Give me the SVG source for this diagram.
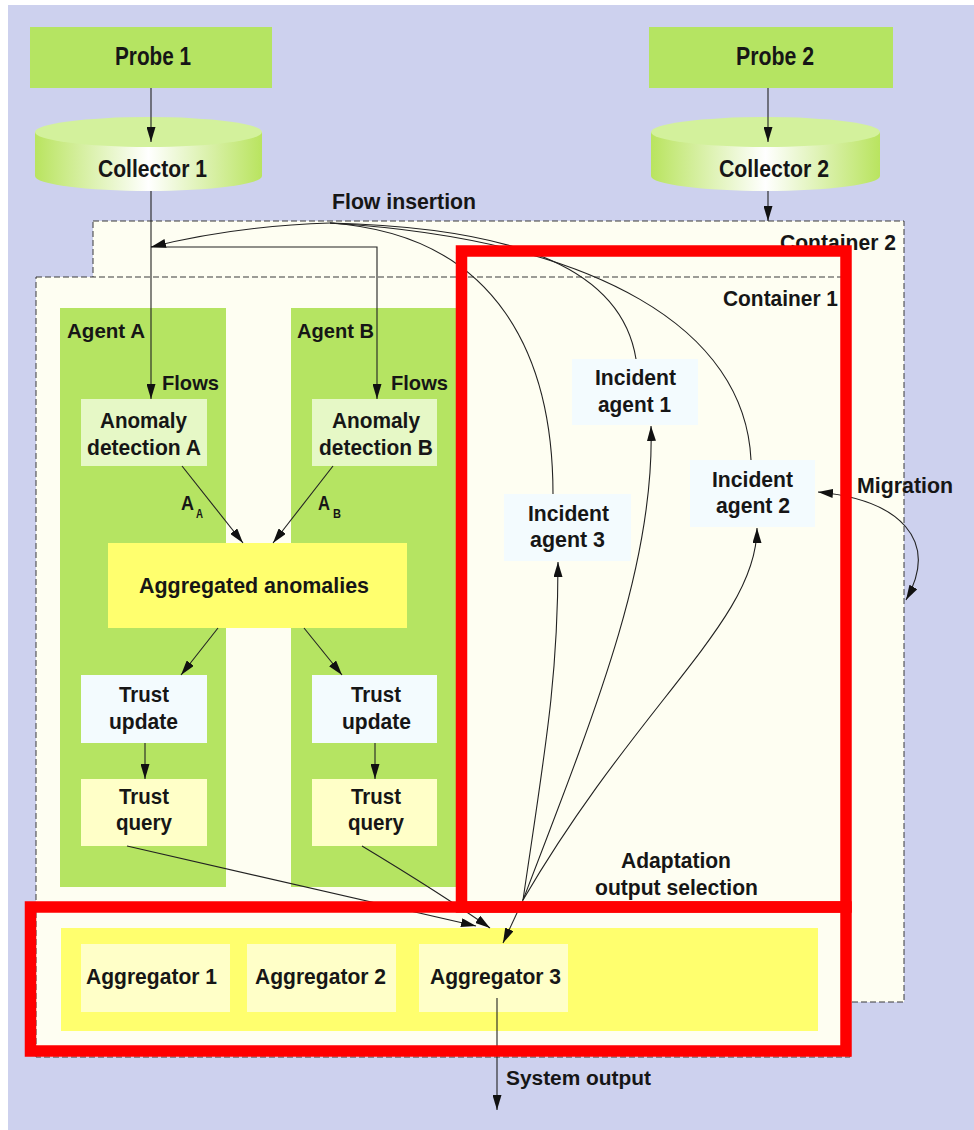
<svg xmlns="http://www.w3.org/2000/svg" width="974" height="1130" viewBox="0 0 974 1130">
<defs>
<marker id="ah" markerUnits="userSpaceOnUse" markerWidth="15" markerHeight="9" refX="15" refY="4.5" orient="auto-start-reverse">
<path d="M0,0 L15,4.5 L0,9 z" fill="#111"/>
</marker>
<linearGradient id="cyl" x1="0" y1="0" x2="1" y2="0">
<stop offset="0" stop-color="#B9E45F"/>
<stop offset="0.5" stop-color="#FFFFFF"/>
<stop offset="1" stop-color="#B9E45F"/>
</linearGradient>
<style>
.t{font-family:"Liberation Sans",Arial,sans-serif;font-weight:bold;font-size:22px;fill:#161616}
.cont{fill:#FEFEF2;stroke:#3a3a3a;stroke-width:1;stroke-dasharray:6,3}
.green{fill:#B5E462}
.ad{fill:#E6F8C6}
.blue{fill:#F3FBFE}
.ly{fill:#FFFFC8}
.yel{fill:#FFFF6E}
.c{fill:none;stroke:#222;stroke-width:1.1}
.red{fill:none;stroke:#FF0000;stroke-width:11.5}
</style>
</defs>
<rect x="0" y="0" width="974" height="1130" fill="#FFFFFF"/>
<rect x="8" y="5" width="966" height="1125" fill="#CDD1EE"/>

<g id="container2">
<rect class="cont" x="93" y="221" width="811" height="781"/>
<text class="t" x="780" y="250" textLength="116" lengthAdjust="spacingAndGlyphs">Container 2</text>
</g>
<g id="container1">
<rect class="cont" x="36" y="277" width="814" height="780"/>
<text class="t" x="723" y="306" textLength="115" lengthAdjust="spacingAndGlyphs">Container 1</text>
</g>

<g id="probe1">
<rect class="green" x="30" y="27" width="242" height="61"/>
<text class="t" x="115" y="65" style="font-size:25px" textLength="76" lengthAdjust="spacingAndGlyphs">Probe 1</text>
</g>
<g id="probe2">
<rect class="green" x="649" y="27" width="244" height="61"/>
<text class="t" x="736" y="65" style="font-size:25px" textLength="78" lengthAdjust="spacingAndGlyphs">Probe 2</text>
</g>
<g id="collector1">
<path d="M35,132 L35,176 A113.5,15 0 0 0 262,176 L262,132 Z" fill="url(#cyl)"/>
<ellipse cx="148.5" cy="132" rx="113.5" ry="15" fill="#D3F19C"/>
<text class="t" x="98" y="177" style="font-size:24px" textLength="109" lengthAdjust="spacingAndGlyphs">Collector 1</text>
</g>
<g id="collector2">
<path d="M651,132 L651,176 A114.5,15 0 0 0 880,176 L880,132 Z" fill="url(#cyl)"/>
<ellipse cx="765.5" cy="132" rx="114.5" ry="15" fill="#D3F19C"/>
<text class="t" x="719" y="177" style="font-size:24px" textLength="110" lengthAdjust="spacingAndGlyphs">Collector 2</text>
</g>

<g id="agentA">
<rect class="green" x="60" y="308" width="166" height="579"/>
<text class="t" x="67" y="338" style="font-size:21px" textLength="78" lengthAdjust="spacingAndGlyphs">Agent A</text>
<text class="t" x="162" y="390" style="font-size:21px" textLength="57" lengthAdjust="spacingAndGlyphs">Flows</text>
</g>
<g id="agentB">
<rect class="green" x="291" y="308" width="168" height="579"/>
<text class="t" x="297" y="338" style="font-size:21px" textLength="77" lengthAdjust="spacingAndGlyphs">Agent B</text>
<text class="t" x="391" y="390" style="font-size:21px" textLength="57" lengthAdjust="spacingAndGlyphs">Flows</text>
</g>

<g id="anomalyA">
<rect class="ad" x="81" y="399" width="126" height="67"/>
<text class="t" x="100" y="428" textLength="87" lengthAdjust="spacingAndGlyphs">Anomaly</text>
<text class="t" x="87" y="455" textLength="114" lengthAdjust="spacingAndGlyphs">detection A</text>
</g>
<g id="anomalyB">
<rect class="ad" x="312" y="399" width="125" height="67"/>
<text class="t" x="332" y="428" textLength="88" lengthAdjust="spacingAndGlyphs">Anomaly</text>
<text class="t" x="319" y="455" textLength="114" lengthAdjust="spacingAndGlyphs">detection B</text>
</g>

<g id="aggregated">
<rect class="yel" x="108" y="543" width="299" height="85"/>
<text class="t" x="139" y="593" textLength="230" lengthAdjust="spacingAndGlyphs">Aggregated anomalies</text>
</g>

<g id="trustUpdateA">
<rect class="blue" x="81" y="675" width="126" height="68"/>
<text class="t" x="119" y="702" textLength="50" lengthAdjust="spacingAndGlyphs">Trust</text>
<text class="t" x="109" y="729" textLength="69" lengthAdjust="spacingAndGlyphs">update</text>
</g>
<g id="trustUpdateB">
<rect class="blue" x="312" y="675" width="125" height="68"/>
<text class="t" x="351" y="702" textLength="50" lengthAdjust="spacingAndGlyphs">Trust</text>
<text class="t" x="342" y="729" textLength="69" lengthAdjust="spacingAndGlyphs">update</text>
</g>
<g id="trustQueryA">
<rect class="ly" x="81" y="779" width="126" height="67"/>
<text class="t" x="119" y="804" textLength="50" lengthAdjust="spacingAndGlyphs">Trust</text>
<text class="t" x="116" y="830" textLength="56" lengthAdjust="spacingAndGlyphs">query</text>
</g>
<g id="trustQueryB">
<rect class="ly" x="312" y="779" width="125" height="67"/>
<text class="t" x="351" y="804" textLength="50" lengthAdjust="spacingAndGlyphs">Trust</text>
<text class="t" x="348" y="830" textLength="56" lengthAdjust="spacingAndGlyphs">query</text>
</g>

<g id="incident1">
<rect class="blue" x="572" y="359" width="126" height="66"/>
<text class="t" x="595" y="385" textLength="81" lengthAdjust="spacingAndGlyphs">Incident</text>
<text class="t" x="598" y="412" textLength="73" lengthAdjust="spacingAndGlyphs">agent 1</text>
</g>
<g id="incident2">
<rect class="blue" x="690" y="460" width="125" height="67"/>
<text class="t" x="712" y="487" textLength="81" lengthAdjust="spacingAndGlyphs">Incident</text>
<text class="t" x="716" y="513" textLength="74" lengthAdjust="spacingAndGlyphs">agent 2</text>
</g>
<g id="incident3">
<rect class="blue" x="504" y="494" width="127" height="67"/>
<text class="t" x="528" y="521" textLength="81" lengthAdjust="spacingAndGlyphs">Incident</text>
<text class="t" x="530" y="547" textLength="75" lengthAdjust="spacingAndGlyphs">agent 3</text>
</g>

<g id="aggregators">
<rect class="yel" x="61" y="928" width="757" height="103"/>
</g>
<g id="aggregator1">
<rect class="ly" x="81" y="944" width="149" height="68"/>
<text class="t" x="86" y="984" textLength="131" lengthAdjust="spacingAndGlyphs">Aggregator 1</text>
</g>
<g id="aggregator2">
<rect class="ly" x="247" y="944" width="149" height="68"/>
<text class="t" x="255" y="984" textLength="131" lengthAdjust="spacingAndGlyphs">Aggregator 2</text>
</g>
<g id="aggregator3">
<rect class="ly" x="419" y="944" width="149" height="68"/>
<text class="t" x="430" y="984" textLength="131" lengthAdjust="spacingAndGlyphs">Aggregator 3</text>
</g>

<g id="labels">
<text class="t" x="332" y="209" textLength="144" lengthAdjust="spacingAndGlyphs">Flow insertion</text>
<text class="t" x="181" y="510" style="font-size:21px" textLength="13" lengthAdjust="spacingAndGlyphs">A</text>
<text class="t" x="196" y="518" style="font-size:13px" textLength="7" lengthAdjust="spacingAndGlyphs">A</text>
<text class="t" x="318" y="510" style="font-size:21px" textLength="12" lengthAdjust="spacingAndGlyphs">A</text>
<text class="t" x="333" y="518" style="font-size:13px" textLength="8" lengthAdjust="spacingAndGlyphs">B</text>
<text class="t" x="857" y="493" textLength="96" lengthAdjust="spacingAndGlyphs">Migration</text>
<text class="t" x="621" y="868" textLength="110" lengthAdjust="spacingAndGlyphs">Adaptation</text>
<text class="t" x="595" y="895" textLength="163" lengthAdjust="spacingAndGlyphs">output selection</text>
<text class="t" x="506" y="1085" style="font-size:20px" textLength="145" lengthAdjust="spacingAndGlyphs">System output</text>
</g>

<g id="connectors">
<line class="c" x1="151" y1="88" x2="151" y2="142" marker-end="url(#ah)"/>
<line class="c" x1="768" y1="88" x2="768" y2="142" marker-end="url(#ah)"/>
<line class="c" x1="768" y1="191" x2="768" y2="221" marker-end="url(#ah)"/>
<line class="c" x1="151" y1="191" x2="151" y2="399" marker-end="url(#ah)"/>
<polyline class="c" points="151,247 377,247 377,399" marker-end="url(#ah)"/>
<path class="c" d="M553,494 C553,360 500,235 330,223"/>
<path class="c" d="M636,359 C622,272 525,228 330,223"/>
<path class="c" d="M751,460 C745,330 600,240 330,223"/>
<path class="c" d="M330,223 Q235,226 151,247" stroke-width="1.8" marker-end="url(#ah)"/>
<line class="c" x1="182" y1="466" x2="243" y2="543" marker-end="url(#ah)"/>
<line class="c" x1="333" y1="466" x2="273" y2="543" marker-end="url(#ah)"/>
<line class="c" x1="218" y1="628" x2="181" y2="675" marker-end="url(#ah)"/>
<line class="c" x1="304" y1="628" x2="342" y2="675" marker-end="url(#ah)"/>
<line class="c" x1="145" y1="743" x2="145" y2="779" marker-end="url(#ah)"/>
<line class="c" x1="375" y1="743" x2="375" y2="779" marker-end="url(#ah)"/>
<path class="c" d="M127,846 L476,926" marker-end="url(#ah)"/>
<path class="c" d="M362,846 Q440,893 490,928" marker-end="url(#ah)"/>
<path class="c" d="M523,900 C545,750 558,680 558,562" marker-end="url(#ah)"/>
<path class="c" d="M523,900 C600,700 655,560 651,426" marker-end="url(#ah)"/>
<path class="c" d="M523,900 C640,700 757,620 757,528" marker-end="url(#ah)"/>
<line class="c" x1="523" y1="900" x2="503" y2="943" marker-end="url(#ah)"/>
<path class="c" d="M818,492 C900,500 940,540 906,600" marker-start="url(#ah)" marker-end="url(#ah)"/>
<line class="c" x1="497" y1="998" x2="497" y2="1110" marker-end="url(#ah)"/>
</g>

<g id="highlights">
<rect class="red" x="461.5" y="251" width="384.5" height="656"/>
<rect class="red" x="30.5" y="907" width="815.5" height="144"/>
</g>
</svg>
